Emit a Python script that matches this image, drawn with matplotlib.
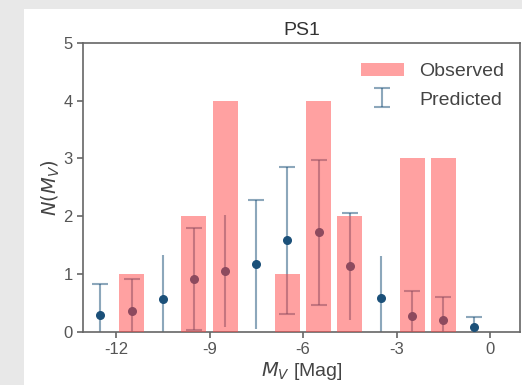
import matplotlib
matplotlib.use("Agg")
import matplotlib.pyplot as plt
import numpy as np
from matplotlib.patches import Rectangle

# Observed histogram
obs_x = [-11.5, -9.5, -8.5, -6.5, -5.5, -4.5, -2.5, -1.5]
obs_n = [1, 2, 4, 1, 4, 2, 3, 3]

# Predicted
pred_x = [-12.5, -11.5, -10.5, -9.5, -8.5, -7.5, -6.5, -5.5, -4.5, -3.5, -2.5, -1.5, -0.5]
pred_n = [0.29, 0.36, 0.57, 0.92, 1.05, 1.17, 1.59, 1.73, 1.13, 0.58, 0.28, 0.21, 0.09]
pred_lo = [0.0, 0.0, 0.0, 0.03, 0.08, 0.05, 0.31, 0.47, 0.20, 0.0, 0.0, 0.0, 0.0]
pred_hi = [0.83, 0.91, 1.33, 1.80, 2.02, 2.28, 2.86, 2.98, 2.06, 1.31, 0.71, 0.60, 0.26]
cap_lo = [False, False, False, True, False, False, True, True, False, False, False, False, False]
cap_hi = [True, True, False, True, False, True, True, True, True, False, True, True, True]

xticks = [-12, -9, -6, -3, 0]
yticks = [0, 1, 2, 3, 4, 5]

plt.rcParams['font.family'] = ['Liberation Sans', 'DejaVu Sans']
plt.rcParams['axes.unicode_minus'] = False
plt.rcParams['mathtext.fontset'] = 'dejavusans'

fig = plt.figure(figsize=(5.22, 3.85), dpi=100)
fig.patch.set_facecolor('#e8e8e8')
bg = fig.add_axes([24 / 522, 0, 1 - 24 / 522, (385 - 9) / 385], zorder=-10)
bg.set_axis_off()
bg.add_patch(Rectangle((0, 0), 1, 1, transform=bg.transAxes, facecolor='white', edgecolor='none'))

ax = fig.add_axes([83 / 522, (385 - 331.7) / 385, (520 - 83) / 522, (331.7 - 43) / 385])
ax.set_facecolor('white')

blue = '#1b5079'
err_lo = [n - l for n, l in zip(pred_n, pred_lo)]
err_hi = [h - n for n, h in zip(pred_n, pred_hi)]
ax.errorbar(pred_x, pred_n, yerr=[err_lo, err_hi], fmt='none', ecolor=blue,
            elinewidth=1.5, alpha=0.5, capsize=0, zorder=2)
# caps
cx = [x for x, c in zip(pred_x, cap_hi) if c] + [x for x, c in zip(pred_x, cap_lo) if c]
cy = [h for h, c in zip(pred_hi, cap_hi) if c] + [l for l, c in zip(pred_lo, cap_lo) if c]
ax.plot(cx, cy, linestyle='none', marker='_', markersize=12, markeredgewidth=1.5,
        color=blue, alpha=0.5, zorder=2)
ax.scatter(pred_x, pred_n, s=30, color=blue, zorder=3)
# legend proxy (off-screen NaN) with caps
proxy = ax.errorbar([np.nan], [np.nan], yerr=[[1], [1]], fmt='none', ecolor=blue,
                    elinewidth=1.5, alpha=0.5, capsize=6, capthick=1.5)

bars = ax.bar(obs_x, obs_n, width=0.8, color='#ff4545', alpha=0.5, zorder=4,
              edgecolor='none')

ax.set_xlim(-13.06, 0.96)
ax.set_ylim(0, 5)
ax.set_xticks(xticks)
ax.set_yticks(yticks)
for s in ax.spines.values():
    s.set_color('#666666')
    s.set_linewidth(1.2)
ax.tick_params(colors='#666666', labelcolor='#555555', labelsize=12, length=4, width=1.2)

ax.set_title('PS1', fontsize=14, color='#333333', pad=6)
ax.set_xlabel('$M_V$ [Mag]', fontsize=14, color='#444444', labelpad=2)
ax.set_ylabel('$N(M_V)$', fontsize=14, color='#444444', labelpad=1)

ax.legend([bars, proxy], ['Observed', 'Predicted'],
          loc='upper right', bbox_to_anchor=(1.0, 0.986), frameon=False, fontsize=14,
          labelcolor='#444444', handlelength=2.2, borderaxespad=0.4, labelspacing=0.55)

fig.savefig('out.png', dpi=100, facecolor=fig.get_facecolor())
